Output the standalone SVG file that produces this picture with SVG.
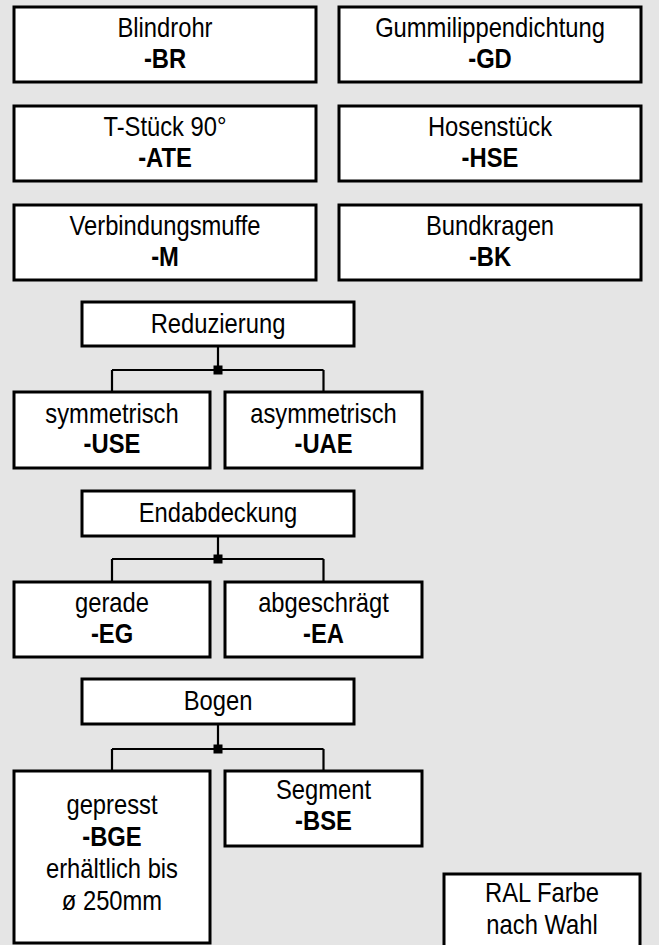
<svg xmlns="http://www.w3.org/2000/svg" width="659" height="945" viewBox="0 0 659 945">
  <style>
    .box { fill: #ffffff; stroke: #000000; stroke-width: 3; }
    .t { font-family: "Liberation Sans", Arial, sans-serif; font-size: 27px; fill: #000000; text-anchor: middle; }
    .b { font-weight: bold; }
    .wire { fill: none; stroke: #000000; stroke-width: 2.2; }
    .joint { fill: #000000; }
  </style>
  <rect width="659" height="945" fill="#e5e5e5"/>

  <!-- part grid; labels use a narrowed sans (matrix = x-scale 0.88, then position) -->
  <g id="blindrohr">
    <rect class="box" x="14" y="7" width="302" height="75"/>
    <text class="t" transform="matrix(0.88 0 0 1 165 36.5)">Blindrohr</text>
    <text class="t b" transform="matrix(0.88 0 0 1 165 68)">-BR</text>
  </g>
  <g id="gummilippendichtung">
    <rect class="box" x="339" y="7" width="302" height="75"/>
    <text class="t" transform="matrix(0.88 0 0 1 490 36.5)">Gummilippendichtung</text>
    <text class="t b" transform="matrix(0.88 0 0 1 490 68)">-GD</text>
  </g>
  <g id="t-stueck">
    <rect class="box" x="14" y="106" width="302" height="75"/>
    <text class="t" transform="matrix(0.88 0 0 1 165 135.5)">T-Stück 90°</text>
    <text class="t b" transform="matrix(0.88 0 0 1 165 167)">-ATE</text>
  </g>
  <g id="hosenstueck">
    <rect class="box" x="339" y="106" width="302" height="75"/>
    <text class="t" transform="matrix(0.88 0 0 1 490 135.5)">Hosenstück</text>
    <text class="t b" transform="matrix(0.88 0 0 1 490 167)">-HSE</text>
  </g>
  <g id="verbindungsmuffe">
    <rect class="box" x="14" y="205" width="302" height="75"/>
    <text class="t" transform="matrix(0.88 0 0 1 165 234.5)">Verbindungsmuffe</text>
    <text class="t b" transform="matrix(0.88 0 0 1 165 266)">-M</text>
  </g>
  <g id="bundkragen">
    <rect class="box" x="339" y="205" width="302" height="75"/>
    <text class="t" transform="matrix(0.88 0 0 1 490 234.5)">Bundkragen</text>
    <text class="t b" transform="matrix(0.88 0 0 1 490 266)">-BK</text>
  </g>

  <!-- Reduzierung -->
  <g id="reduzierung">
    <rect class="box" x="82" y="302" width="272" height="44"/>
    <text class="t" transform="matrix(0.88 0 0 1 218 333)">Reduzierung</text>
  </g>
  <g id="symmetrisch">
    <rect class="box" x="14" y="392" width="196" height="76"/>
    <text class="t" transform="matrix(0.88 0 0 1 112 423)">symmetrisch</text>
    <text class="t b" transform="matrix(0.88 0 0 1 112 453)">-USE</text>
  </g>
  <g id="asymmetrisch">
    <rect class="box" x="225" y="392" width="197" height="76"/>
    <text class="t" transform="matrix(0.88 0 0 1 323.5 423)">asymmetrisch</text>
    <text class="t b" transform="matrix(0.88 0 0 1 323.5 453)">-UAE</text>
  </g>

  <!-- Endabdeckung -->
  <g id="endabdeckung">
    <rect class="box" x="82" y="491" width="272" height="45"/>
    <text class="t" transform="matrix(0.88 0 0 1 218 522)">Endabdeckung</text>
  </g>
  <g id="gerade">
    <rect class="box" x="14" y="582" width="196" height="75"/>
    <text class="t" transform="matrix(0.88 0 0 1 112 612)">gerade</text>
    <text class="t b" transform="matrix(0.88 0 0 1 112 643)">-EG</text>
  </g>
  <g id="abgeschraegt">
    <rect class="box" x="225" y="582" width="197" height="75"/>
    <text class="t" transform="matrix(0.88 0 0 1 323.5 612)">abgeschrägt</text>
    <text class="t b" transform="matrix(0.88 0 0 1 323.5 643)">-EA</text>
  </g>

  <!-- Bogen -->
  <g id="bogen">
    <rect class="box" x="82" y="679" width="272" height="45"/>
    <text class="t" transform="matrix(0.88 0 0 1 218 710)">Bogen</text>
  </g>
  <g id="gepresst">
    <rect class="box" x="14" y="771" width="196" height="172"/>
    <text class="t" transform="matrix(0.88 0 0 1 112 814)">gepresst</text>
    <text class="t b" transform="matrix(0.88 0 0 1 112 846)">-BGE</text>
    <text class="t" transform="matrix(0.88 0 0 1 112 878)">erhältlich bis</text>
    <text class="t" transform="matrix(0.88 0 0 1 112 910)">ø 250mm</text>
  </g>
  <g id="segment">
    <rect class="box" x="225" y="771" width="197" height="75"/>
    <text class="t" transform="matrix(0.88 0 0 1 323.5 799)">Segment</text>
    <text class="t b" transform="matrix(0.88 0 0 1 323.5 830)">-BSE</text>
  </g>

  <!-- colour note -->
  <g id="ral-farbe">
    <rect class="box" x="444" y="874" width="196" height="75"/>
    <text class="t" transform="matrix(0.88 0 0 1 542 902)">RAL Farbe</text>
    <text class="t" transform="matrix(0.88 0 0 1 542 934)">nach Wahl</text>
  </g>

  <!-- connectors: parent stem, cross bar, child drops, junction square -->
  <g id="connectors">
    <path class="wire" d="M218 346 V370 M112 370 H323.5 M112 370 V392 M323.5 370 V392"/>
    <rect class="joint" x="213.5" y="365.5" width="9" height="9"/>
    <path class="wire" d="M218 536 V559 M112 559 H323.5 M112 559 V582 M323.5 559 V582"/>
    <rect class="joint" x="213.5" y="554.5" width="9" height="9"/>
    <path class="wire" d="M218 724 V749 M112 749 H323.5 M112 749 V771 M323.5 749 V771"/>
    <rect class="joint" x="213.5" y="744.5" width="9" height="9"/>
  </g>
</svg>
